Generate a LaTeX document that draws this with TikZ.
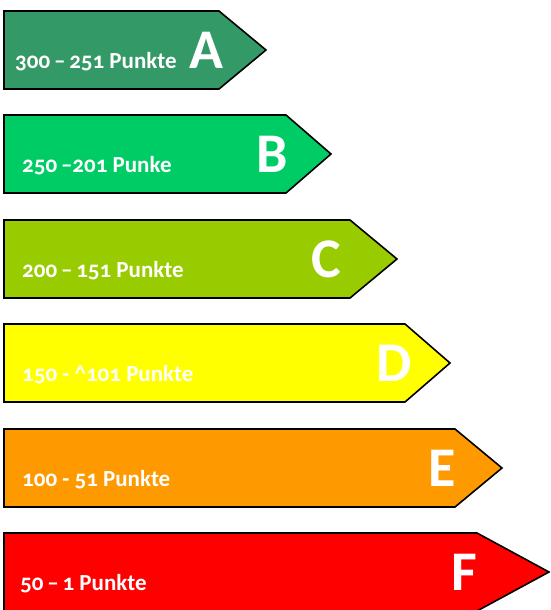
\documentclass[tikz,border=0pt]{standalone}
\usepackage{fontspec}
\setmainfont{Carlito}[Numbers=OldStyle]
\definecolor{cA}{RGB}{51,153,102}
\definecolor{cB}{RGB}{0,204,102}
\definecolor{cC}{RGB}{153,204,0}
\definecolor{cD}{RGB}{255,255,0}
\definecolor{cE}{RGB}{255,153,0}
\definecolor{cF}{RGB}{255,0,0}
\newcommand\ebar[9]{%
  \path[bar,fill=#5] (4,#2) -- (#3,#2) -- (#4,{#2+39}) -- (#3,{#2+78}) -- (4,{#2+78}) -- cycle;
  \node[lbl] (#1l) at (#7,{#2+57}) {#6};
  \node[cls] (#1) at (#9,{#2+57}) {#8};
}
\begin{document}
\begin{tikzpicture}[x=1pt,y=-1pt,
  bar/.style={draw=black,line width=1.6pt,line join=miter},
  lbl/.style={anchor=base west,inner sep=0pt,text=white,font=\bfseries\fontsize{23}{23}\selectfont},
  cls/.style={anchor=base west,inner sep=0pt,text=white,font=\bfseries\fontsize{56}{56}\selectfont}]
\useasboundingbox (0,0) rectangle (550,610);
\clip (0,0) rectangle (550,610);
\ebar{A}{11}{219}{266}{cA}{300\,–\,251 Punkte}{15}{A}{189}
\ebar{B}{115}{286}{331}{cB}{250\,–201 Punke}{22}{B}{256}
\ebar{C}{220}{350}{397}{cC}{200\,–\,151 Punkte}{22}{C}{311}
\ebar{D}{324}{405}{450}{cD}{150 - \textasciicircum101 Punkte}{22}{D}{376}
\ebar{E}{429}{455}{502}{cE}{100 - 51 Punkte}{22}{E}{428}
\ebar{F}{533}{477}{549}{cF}{50\,–\,1 Punkte}{20}{F}{451}
\end{tikzpicture}
\end{document}
